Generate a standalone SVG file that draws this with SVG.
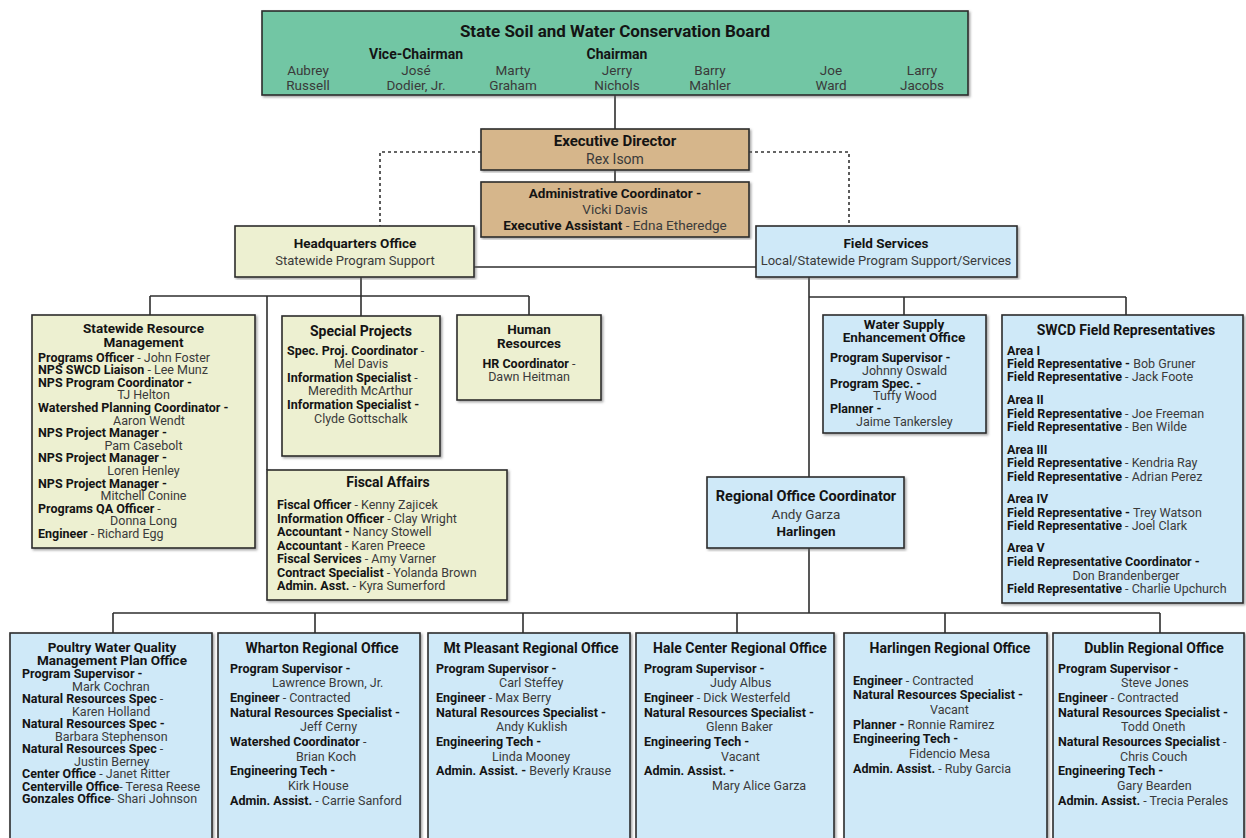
<svg xmlns="http://www.w3.org/2000/svg" width="1246" height="838" viewBox="0 0 1246 838">
<defs>
<filter id="sh" x="-5%" y="-5%" width="110%" height="110%"><feDropShadow dx="1.5" dy="1.5" stdDeviation="0.8" flood-color="#666" flood-opacity="0.6"/></filter>
<style>
text{font-family:Roboto,"Liberation Sans",Arial,sans-serif;font-size:12.5px;fill:#3a3a3a}
.b{font-weight:700;fill:#141414}
.c{text-anchor:middle}
.h{font-size:14px}
.h2{font-size:13.5px}
.bn{font-size:13.5px}
.box{stroke:#2b2b2b;stroke-width:1.6;filter:url(#sh)}
.g{fill:#72c6a4}
.tan{fill:#d6b68b}
.y{fill:#edf0d1}
.bl{fill:#cfe9f8}
.ln{fill:none;stroke:#2e2e2e;stroke-width:1.6}
.dt{fill:none;stroke:#333;stroke-width:1.6;stroke-dasharray:3 3}
</style>
</defs>
<rect width="1246" height="838" fill="#fff"/>

<g id="connectors">
<line class="ln" x1="615" y1="95" x2="615" y2="129"/>
<line class="ln" x1="615" y1="170" x2="615" y2="182"/>
<polyline class="dt" points="481,152 380,152 380,226"/>
<polyline class="dt" points="749,152 849,152 849,226"/>
<line class="ln" x1="474" y1="267" x2="756" y2="267"/>
<line class="ln" x1="361" y1="277" x2="361" y2="316"/>
<line class="ln" x1="150" y1="296" x2="529" y2="296"/>
<line class="ln" x1="150" y1="296" x2="150" y2="315"/>
<line class="ln" x1="529" y1="296" x2="529" y2="315"/>
<line class="ln" x1="267" y1="296" x2="267" y2="470"/>
<line class="ln" x1="809" y1="277" x2="809" y2="477"/>
<line class="ln" x1="809" y1="297" x2="1126" y2="297"/>
<line class="ln" x1="904" y1="297" x2="904" y2="315"/>
<line class="ln" x1="1126" y1="297" x2="1126" y2="315"/>
<line class="ln" x1="809" y1="548" x2="809" y2="613"/>
<line class="ln" x1="113" y1="613" x2="1160" y2="613"/>
<line class="ln" x1="113" y1="613" x2="113" y2="633"/>
<line class="ln" x1="315" y1="613" x2="315" y2="633"/>
<line class="ln" x1="523" y1="613" x2="523" y2="633"/>
<line class="ln" x1="737" y1="613" x2="737" y2="633"/>
<line class="ln" x1="945" y1="613" x2="945" y2="633"/>
<line class="ln" x1="1160" y1="613" x2="1160" y2="633"/>
</g>

<g id="board">
<rect class="box g" x="262" y="11" width="706" height="84"/>
<text class="b c" x="615" y="37" style="font-size:17px">State Soil and Water Conservation Board</text>
<text class="b c h" x="416" y="59">Vice-Chairman</text>
<text class="b c h" x="617" y="59">Chairman</text>
<text class="c bn" x="308" y="75">Aubrey</text><text class="c bn" x="308" y="90">Russell</text>
<text class="c bn" x="416" y="75">José</text><text class="c bn" x="416" y="90">Dodier, Jr.</text>
<text class="c bn" x="513" y="75">Marty</text><text class="c bn" x="513" y="90">Graham</text>
<text class="c bn" x="617" y="75">Jerry</text><text class="c bn" x="617" y="90">Nichols</text>
<text class="c bn" x="710" y="75">Barry</text><text class="c bn" x="710" y="90">Mahler</text>
<text class="c bn" x="831" y="75">Joe</text><text class="c bn" x="831" y="90">Ward</text>
<text class="c bn" x="922" y="75">Larry</text><text class="c bn" x="922" y="90">Jacobs</text>
</g>

<g id="exec">
<rect class="box tan" x="481" y="129" width="268" height="41"/>
<text class="b c" x="615" y="146" style="font-size:15px">Executive Director</text>
<text class="c" x="615" y="164" style="font-size:14px">Rex Isom</text>
</g>

<g id="admin">
<rect class="box tan" x="481" y="182" width="268" height="55"/>
<text class="b c bn" x="615" y="198">Administrative Coordinator -</text>
<text class="c bn" x="615" y="214">Vicki Davis</text>
<text class="c bn" x="615" y="230"><tspan class="b">Executive Assistant</tspan> - Edna Etheredge</text>
</g>

<g id="hq">
<rect class="box y" x="235" y="226" width="239" height="51"/>
<text class="b c bn" x="355" y="248">Headquarters Office</text>
<text class="c" x="355" y="265" style="font-size:13px">Statewide Program Support</text>
</g>

<g id="field">
<rect class="box bl" x="756" y="226" width="261" height="51"/>
<text class="b c bn" x="886" y="248">Field Services</text>
<text class="c" x="886" y="265" style="font-size:13px">Local/Statewide Program Support/Services</text>
</g>

<g id="statewide">
<rect class="box y" x="32" y="315" width="223" height="233"/>
<text class="b c h2" x="143.5" y="333">Statewide Resource</text>
<text class="b c h2" x="143.5" y="346.5">Management</text>
<text x="38" y="361.5"><tspan class="b">Programs Officer</tspan> - John Foster</text>
<text x="38" y="374.1"><tspan class="b">NPS SWCD Liaison</tspan> - Lee Munz</text>
<text class="b" x="38" y="386.7">NPS Program Coordinator -</text>
<text class="c" x="143.5" y="399.3">TJ Helton</text>
<text class="b" x="38" y="411.9">Watershed Planning Coordinator -</text>
<text class="c" x="149" y="424.5">Aaron Wendt</text>
<text class="b" x="38" y="437.1">NPS Project Manager -</text>
<text class="c" x="143.5" y="449.7">Pam Casebolt</text>
<text class="b" x="38" y="462.3">NPS Project Manager -</text>
<text class="c" x="143.5" y="474.9">Loren Henley</text>
<text class="b" x="38" y="487.5">NPS Project Manager -</text>
<text class="c" x="143.5" y="500.1">Mitchell Conine</text>
<text x="38" y="512.7"><tspan class="b">Programs QA Officer</tspan>  -</text>
<text class="c" x="143.5" y="525.3">Donna Long</text>
<text x="38" y="537.9"><tspan class="b">Engineer</tspan> - Richard Egg</text>
</g>

<g id="special">
<rect class="box y" x="282" y="316" width="158" height="140"/>
<text class="b c h" x="361" y="336">Special Projects</text>
<text x="287" y="355"><tspan class="b">Spec. Proj. Coordinator</tspan> -</text>
<text x="334" y="368">Mel Davis</text>
<text x="287" y="382"><tspan class="b">Information Specialist</tspan> -</text>
<text x="308" y="395">Meredith McArthur</text>
<text class="b" x="287" y="409">Information Specialist -</text>
<text x="314" y="423">Clyde Gottschalk</text>
</g>

<g id="hr">
<rect class="box y" x="457" y="315" width="144" height="85"/>
<text class="b c h2" x="529" y="334">Human</text>
<text class="b c h2" x="529" y="347.5">Resources</text>
<text class="c" x="529" y="368"><tspan class="b">HR Coordinator</tspan> -</text>
<text class="c" x="529" y="381">Dawn Heitman</text>
</g>

<g id="fiscal">
<rect class="box y" x="267" y="470" width="240" height="130"/>
<text class="b c h" x="388" y="487">Fiscal Affairs</text>
<text x="277" y="509"><tspan class="b">Fiscal Officer</tspan> - Kenny Zajicek</text>
<text x="277" y="522.5"><tspan class="b">Information Officer</tspan> - Clay Wright</text>
<text x="277" y="536"><tspan class="b">Accountant -</tspan> Nancy Stowell</text>
<text x="277" y="549.5"><tspan class="b">Accountant</tspan> - Karen Preece</text>
<text x="277" y="563"><tspan class="b">Fiscal Services</tspan> - Amy Varner</text>
<text x="277" y="576.5"><tspan class="b">Contract Specialist</tspan> - Yolanda Brown</text>
<text x="277" y="590"><tspan class="b">Admin. Asst.</tspan> - Kyra Sumerford</text>
</g>

<g id="watersupply">
<rect class="box bl" x="823" y="315" width="163" height="118"/>
<text class="b c h2" x="904" y="329">Water Supply</text>
<text class="b c h2" x="904" y="342">Enhancement Office</text>
<text class="b" x="830" y="362">Program Supervisor -</text>
<text x="862" y="375">Johnny Oswald</text>
<text class="b" x="830" y="387.5">Program Spec. -</text>
<text x="873" y="400">Tuffy Wood</text>
<text class="b" x="830" y="413">Planner -</text>
<text x="856" y="426">Jaime Tankersley</text>
</g>

<g id="regional">
<rect class="box bl" x="707" y="477" width="197" height="71"/>
<text class="b c" x="806" y="501" style="font-size:14.5px">Regional Office Coordinator</text>
<text class="c bn" x="806" y="519">Andy Garza</text>
<text class="b c bn" x="806" y="536">Harlingen</text>
</g>

<g id="swcd">
<rect class="box bl" x="1002" y="315" width="241" height="288"/>
<text class="b c h" x="1126" y="335">SWCD Field Representatives</text>
<text class="b" x="1007" y="355">Area I</text>
<text x="1007" y="368"><tspan class="b">Field Representative -</tspan> Bob Gruner</text>
<text x="1007" y="381"><tspan class="b">Field Representative</tspan> - Jack Foote</text>
<text class="b" x="1007" y="404">Area II</text>
<text x="1007" y="418"><tspan class="b">Field Representative</tspan> - Joe Freeman</text>
<text x="1007" y="431"><tspan class="b">Field Representative</tspan> - Ben Wilde</text>
<text class="b" x="1007" y="454">Area III</text>
<text x="1007" y="467"><tspan class="b">Field Representative</tspan> - Kendria Ray</text>
<text x="1007" y="481"><tspan class="b">Field Representative</tspan> - Adrian Perez</text>
<text class="b" x="1007" y="503">Area IV</text>
<text x="1007" y="517"><tspan class="b">Field Representative -</tspan> Trey Watson</text>
<text x="1007" y="530"><tspan class="b">Field Representative</tspan> - Joel Clark</text>
<text class="b" x="1007" y="552">Area V</text>
<text class="b" x="1007" y="566">Field Representative Coordinator -</text>
<text class="c" x="1126" y="580">Don Brandenberger</text>
<text x="1007" y="593"><tspan class="b">Field Representative</tspan> - Charlie Upchurch</text>
</g>

<g id="poultry">
<rect class="box bl" x="10" y="633" width="202" height="215"/>
<text class="b c h2" x="112" y="651.5">Poultry Water Quality</text>
<text class="b c h2" x="112" y="664.5">Management Plan Office</text>
<text class="b" x="22" y="678">Program Supervisor -</text>
<text x="72" y="690.5">Mark Cochran</text>
<text x="22" y="703"><tspan class="b">Natural Resources Spec</tspan> -</text>
<text x="72" y="715.5">Karen Holland</text>
<text class="b" x="22" y="728">Natural Resources Spec -</text>
<text x="55" y="740.5">Barbara Stephenson</text>
<text x="22" y="753"><tspan class="b">Natural Resources Spec</tspan> -</text>
<text x="74" y="765.5">Justin Berney</text>
<text x="22" y="778"><tspan class="b">Center Office</tspan> - Janet Ritter</text>
<text x="22" y="790.5"><tspan class="b">Centerville Office</tspan>- Teresa Reese</text>
<text x="22" y="803"><tspan class="b">Gonzales Office</tspan>- Shari Johnson</text>
</g>

<g id="wharton">
<rect class="box bl" x="218" y="633" width="202" height="215"/>
<text class="b c h" x="322" y="653">Wharton Regional Office</text>
<text class="b" x="230" y="672.5">Program Supervisor -</text>
<text x="272" y="687.2">Lawrence Brown, Jr.</text>
<text x="230" y="701.9"><tspan class="b">Engineer</tspan> - Contracted</text>
<text class="b" x="230" y="716.6">Natural Resources Specialist -</text>
<text x="300" y="731.3">Jeff Cerny</text>
<text x="230" y="746"><tspan class="b">Watershed Coordinator</tspan> -</text>
<text x="296" y="760.7">Brian Koch</text>
<text class="b" x="230" y="775.4">Engineering Tech -</text>
<text x="288" y="790.1">Kirk House</text>
<text x="230" y="804.8"><tspan class="b">Admin. Assist.</tspan> - Carrie Sanford</text>
</g>

<g id="mtpleasant">
<rect class="box bl" x="428" y="633" width="202" height="215"/>
<text class="b c h" x="531" y="653">Mt Pleasant Regional Office</text>
<text class="b" x="436" y="672.5">Program Supervisor -</text>
<text x="499" y="687.2">Carl Steffey</text>
<text x="436" y="701.9"><tspan class="b">Engineer</tspan> - Max Berry</text>
<text class="b" x="436" y="716.6">Natural Resources Specialist -</text>
<text x="496" y="731.3">Andy Kuklish</text>
<text class="b" x="436" y="746">Engineering Tech -</text>
<text x="492" y="760.7">Linda Mooney</text>
<text x="436" y="775.4"><tspan class="b">Admin. Assist. -</tspan> Beverly Krause</text>
</g>

<g id="halecenter">
<rect class="box bl" x="636" y="633" width="198" height="215"/>
<text class="b c h" x="740" y="653">Hale Center Regional Office</text>
<text class="b" x="644" y="672.5">Program Supervisor -</text>
<text x="710" y="687.2">Judy Albus</text>
<text x="644" y="701.9"><tspan class="b">Engineer</tspan> - Dick Westerfeld</text>
<text class="b" x="644" y="716.6">Natural Resources Specialist -</text>
<text x="706" y="731.3">Glenn Baker</text>
<text class="b" x="644" y="746">Engineering Tech -</text>
<text x="721" y="760.7">Vacant</text>
<text class="b" x="644" y="775.4">Admin. Assist. -</text>
<text x="712" y="790.1">Mary Alice Garza</text>
</g>

<g id="harlingen">
<rect class="box bl" x="844" y="633" width="203" height="215"/>
<text class="b c h" x="950" y="653">Harlingen Regional Office</text>
<text x="853" y="684.5"><tspan class="b">Engineer</tspan> - Contracted</text>
<text class="b" x="853" y="699.2">Natural Resources Specialist -</text>
<text x="930" y="713.9">Vacant</text>
<text x="853" y="728.6"><tspan class="b">Planner -</tspan> Ronnie Ramirez</text>
<text class="b" x="853" y="743.3">Engineering Tech -</text>
<text x="909" y="758">Fidencio Mesa</text>
<text x="853" y="772.7"><tspan class="b">Admin. Assist.</tspan> - Ruby Garcia</text>
</g>

<g id="dublin">
<rect class="box bl" x="1053" y="633" width="191" height="215"/>
<text class="b c h" x="1154" y="653">Dublin Regional Office</text>
<text class="b" x="1058" y="672.5">Program Supervisor -</text>
<text x="1121" y="687.2">Steve Jones</text>
<text x="1058" y="701.9"><tspan class="b">Engineer</tspan> - Contracted</text>
<text class="b" x="1058" y="716.6">Natural Resources Specialist -</text>
<text x="1121" y="731.3">Todd Oneth</text>
<text x="1058" y="746"><tspan class="b">Natural Resources Specialist</tspan> -</text>
<text x="1120" y="760.7">Chris Couch</text>
<text class="b" x="1058" y="775.4">Engineering Tech -</text>
<text x="1117" y="790.1">Gary Bearden</text>
<text x="1058" y="804.8"><tspan class="b">Admin. Assist.</tspan> - Trecia Perales</text>
</g>
</svg>
